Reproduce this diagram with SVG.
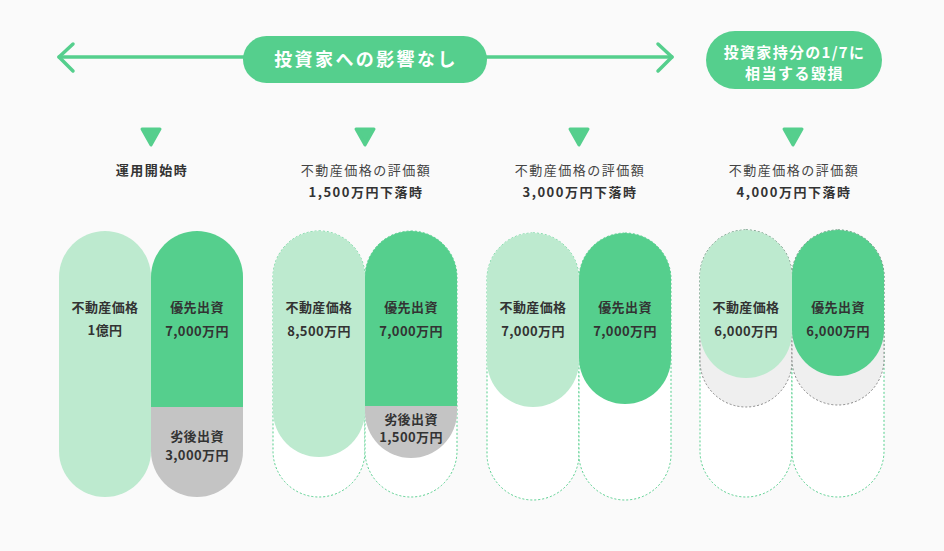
<svg xmlns="http://www.w3.org/2000/svg" width="944" height="551" viewBox="0 0 944 551">
<style>
text{font-family:"Noto Sans CJK JP","Noto Sans",sans-serif;text-anchor:middle;fill:#333}
.b{font-weight:700;font-size:13px;letter-spacing:0.4px}
.h{font-weight:700;font-size:13px;letter-spacing:1.5px}
.n{font-weight:400;font-size:13px;fill:#444;letter-spacing:1.5px}
.w{fill:#fff;font-weight:700}
.outer{fill:#fff;stroke:#55cf8d;stroke-width:1;stroke-dasharray:2 2}
.gout{fill:#efefef;stroke:#888;stroke-width:1;stroke-dasharray:2 2}
.lg{fill:#bdeacf}
.dg{fill:#55cf8d}
.gr{fill:#c4c4c4}
.tri{fill:#55cf8d;stroke:#55cf8d;stroke-width:3;stroke-linejoin:round}
</style>
<defs>
<clipPath id="c1"><rect x="151" y="231" width="92" height="266" rx="46"/></clipPath>
<clipPath id="c2"><rect x="365" y="231" width="92" height="227" rx="46"/></clipPath>
</defs>
<rect width="944" height="551" fill="#fafafa"/>
<g id="connectors" fill="none" stroke="#55cf8d" stroke-width="3.5" stroke-linecap="round" stroke-linejoin="round">
<line x1="59" y1="57" x2="672" y2="57"/>
<polyline points="73,44 59,57 73,71"/>
<polyline points="658,44 672,57 658,71"/>
</g>
<g id="label-no-impact">
<rect x="243" y="36" width="244" height="47" rx="23.5" fill="#55cf8d"/>
<text class="w" x="366" y="66" font-size="18" letter-spacing="2.4">投資家への影響なし</text>
</g>
<g id="label-loss">
<rect x="706" y="31" width="176" height="58" rx="29" fill="#55cf8d"/>
<text class="w" x="794.5" y="57.5" font-size="15" letter-spacing="1.3">投資家持分の1/7に</text>
<text class="w" x="794.5" y="79" font-size="15" letter-spacing="1.5">相当する毀損</text>
</g>
<g id="stage1">
<polygon class="tri" points="142,129 160,129 151,145"/>
<text class="h" x="152" y="175">運用開始時</text>
<rect class="lg" x="59" y="231" width="92" height="266" rx="46"/>
<g clip-path="url(#c1)">
<rect class="dg" x="151" y="231" width="92" height="176"/>
<rect class="gr" x="151" y="407" width="92" height="90"/>
</g>
<text class="b" x="105" y="312">不動産価格</text>
<text class="b" x="105" y="335">1億円</text>
<text class="b" x="197" y="312">優先出資</text>
<text class="b" x="197" y="336">7,000万円</text>
<text class="b" x="197" y="441">劣後出資</text>
<text class="b" x="197" y="460">3,000万円</text>
</g>
<g id="stage2">
<polygon class="tri" points="356,129 374,129 365,145"/>
<text class="n" x="366" y="175">不動産価格の評価額</text>
<text class="h" x="366" y="197">1,500万円下落時</text>
<rect class="outer" x="273" y="231" width="92" height="266" rx="46"/>
<rect class="outer" x="365" y="231" width="92" height="266" rx="46"/>
<rect class="lg" x="273" y="231" width="92" height="226" rx="46"/>
<g clip-path="url(#c2)">
<rect class="dg" x="365" y="231" width="92" height="175"/>
<rect class="gr" x="365" y="406" width="92" height="52"/>
</g>
<text class="b" x="319" y="312">不動産価格</text>
<text class="b" x="319" y="336">8,500万円</text>
<text class="b" x="411" y="312">優先出資</text>
<text class="b" x="411" y="336">7,000万円</text>
<text class="b" x="411" y="424">劣後出資</text>
<text class="b" x="411" y="442">1,500万円</text>
</g>
<g id="stage3">
<polygon class="tri" points="570,129 588,129 579,145"/>
<text class="n" x="580" y="175">不動産価格の評価額</text>
<text class="h" x="580" y="197">3,000万円下落時</text>
<rect class="outer" x="487" y="233" width="92" height="267" rx="46"/>
<rect class="outer" x="579" y="233" width="92" height="267" rx="46"/>
<rect class="lg" x="487" y="233" width="92" height="174" rx="46"/>
<rect class="dg" x="579" y="233" width="92" height="171" rx="46"/>
<text class="b" x="533" y="312">不動産価格</text>
<text class="b" x="533" y="336">7,000万円</text>
<text class="b" x="625" y="312">優先出資</text>
<text class="b" x="625" y="336">7,000万円</text>
</g>
<g id="stage4">
<polygon class="tri" points="784,129 802,129 793,145"/>
<text class="n" x="794" y="175">不動産価格の評価額</text>
<text class="h" x="794" y="197">4,000万円下落時</text>
<rect class="outer" x="700" y="230" width="92" height="267" rx="46"/>
<rect class="outer" x="792" y="230" width="92" height="267" rx="46"/>
<rect class="gout" x="700" y="230" width="92" height="177" rx="46"/>
<rect class="gout" x="792" y="230" width="92" height="175" rx="46"/>
<rect class="lg" x="700" y="230" width="92" height="148" rx="46"/>
<rect class="dg" x="792" y="230" width="92" height="146" rx="46"/>
<text class="b" x="746" y="312">不動産価格</text>
<text class="b" x="746" y="336">6,000万円</text>
<text class="b" x="838" y="312">優先出資</text>
<text class="b" x="838" y="336">6,000万円</text>
</g>
</svg>
